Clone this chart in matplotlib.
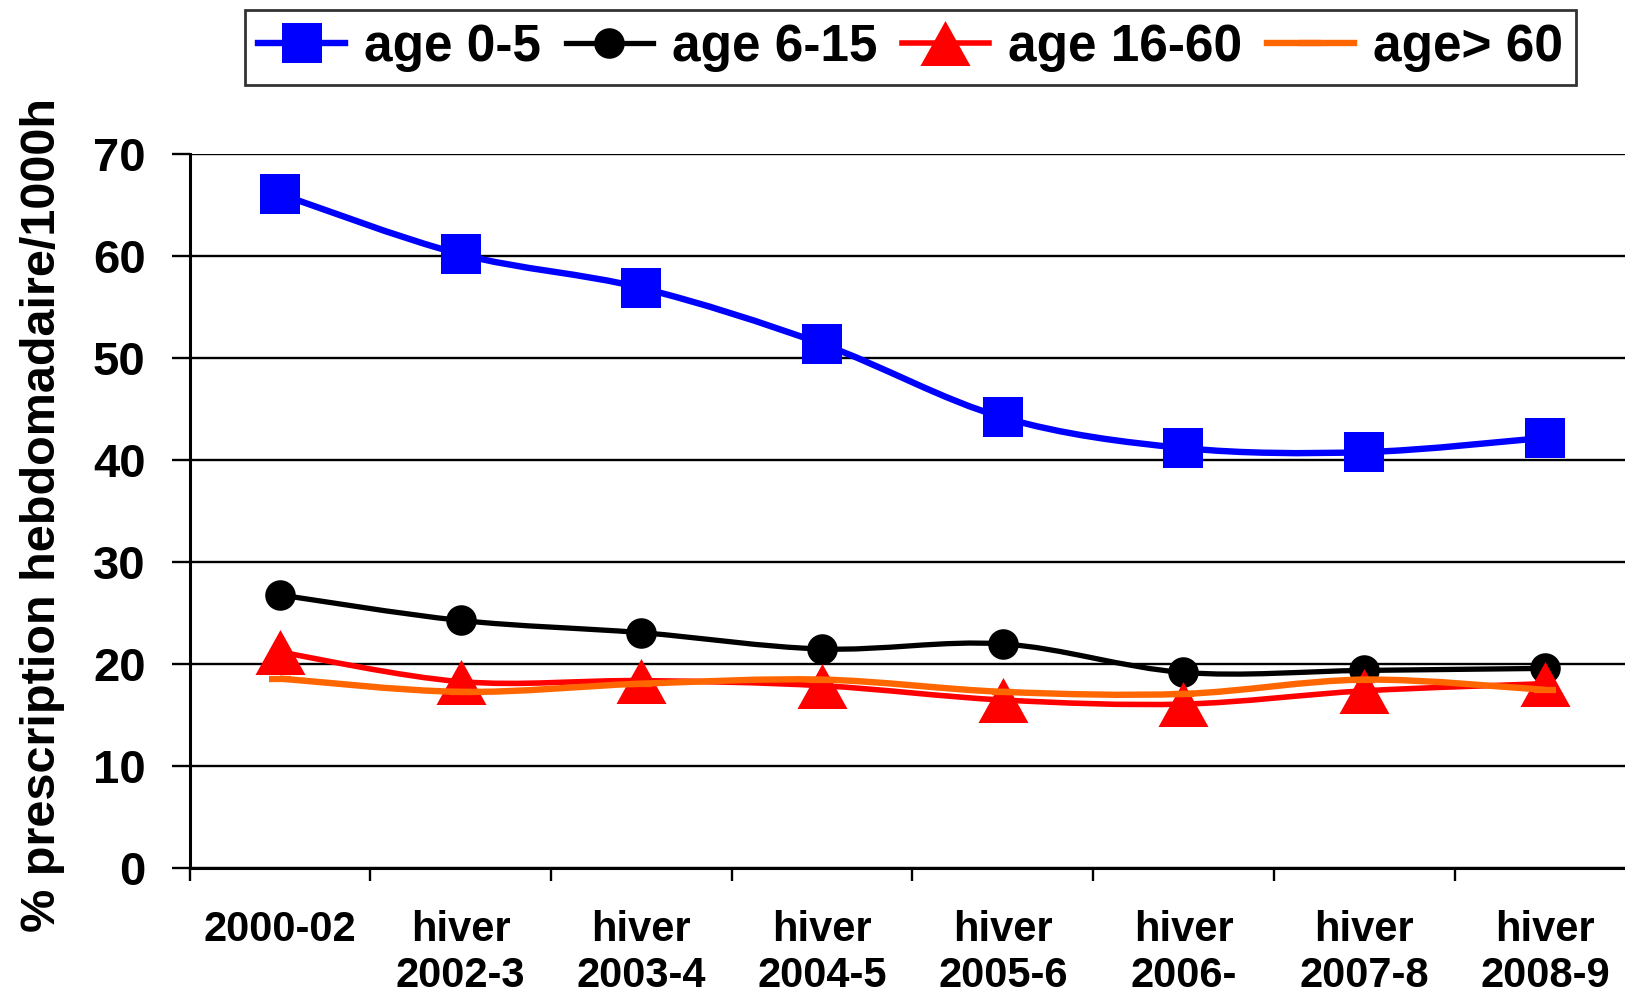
import numpy as np
import matplotlib
matplotlib.use("Agg")
import matplotlib.pyplot as plt
from matplotlib.path import Path
from matplotlib.patches import PathPatch
from matplotlib.lines import Line2D

plt.rcParams["font.family"] = ["Liberation Sans", "DejaVu Sans"]
plt.rcParams["font.weight"] = "bold"

categories = ["2000-02", "hiver\n2002-3", "hiver\n2003-4", "hiver\n2004-5",
              "hiver\n2005-6", "hiver\n2006-", "hiver\n2007-8", "hiver\n2008-9"]
age_0_5 = [66.1, 60.2, 56.9, 51.4, 44.2, 41.2, 40.8, 42.2]
age_6_15 = [26.8, 24.3, 23.1, 21.5, 22.0, 19.2, 19.4, 19.6]
age_16_60 = [21.2, 18.3, 18.4, 17.9, 16.5, 16.1, 17.4, 18.1]
age_60p = [18.6, 17.3, 18.1, 18.5, 17.3, 17.1, 18.5, 17.5]
labels = ["age 0-5", "age 6-15", "age 16-60", "age> 60"]
yticks = [0, 10, 20, 30, 40, 50, 60, 70]


def smooth_path(xs, ys):
    # Bezier a la Excel "ligne lissee"
    pts = np.column_stack([xs, ys]).astype(float)
    ext = np.vstack([pts[0], pts, pts[-1]])
    verts = [tuple(pts[0])]
    codes = [Path.MOVETO]
    for i in range(len(pts) - 1):
        p0, p1, p2, p3 = ext[i], ext[i + 1], ext[i + 2], ext[i + 3]
        c1 = p1 + (p2 - p0) / 6.0
        c2 = p2 - (p3 - p1) / 6.0
        verts += [tuple(c1), tuple(c2), tuple(p2)]
        codes += [Path.CURVE4] * 3
    return Path(verts, codes)


tri = [(-1, -0.9), (1, -0.9), (0, 0.9)]
styles = [
    dict(color="#0000FF", lw=4.6, marker="s", ms=29, mew=0),
    dict(color="#000000", lw=3.8, marker="o", ms=22, mew=0),
    dict(color="#FF0000", lw=4.0, marker=tri, ms=36, mew=0),
    dict(color="#FF6600", lw=4.6, marker="_", ms=16, mew=4.5),
]
series = [age_0_5, age_6_15, age_16_60, age_60p]

fig = plt.figure(figsize=(16.25, 9.96), dpi=100)
ax = fig.add_axes([0.1167, 0.1282, 0.8896, 0.7169])
x = np.arange(len(categories))

handles = []
for k, (vals, st) in enumerate(zip(series, styles)):
    patch = PathPatch(smooth_path(x, vals), fill=False, edgecolor=st["color"],
                      lw=st["lw"], capstyle="butt", joinstyle="round", zorder=3 + 2 * k)
    ax.add_patch(patch)
    ax.plot(x, vals, linestyle="none", marker=st["marker"], ms=st["ms"],
            color=st["color"], mew=st["mew"], mec=st["color"], zorder=4 + 2 * k)
    handles.append(Line2D([], [], color=st["color"], lw=st["lw"], marker=st["marker"],
                          ms=st["ms"], mew=st["mew"], mec=st["color"]))

ax.set_xlim(-0.5, 7.5)
ax.set_ylim(0, 70)
ax.set_yticks(yticks)
ax.set_yticklabels([str(v) for v in yticks], fontsize=34, fontweight="bold")
ax.yaxis.grid(True, color="black", lw=1.7)
ax.set_axisbelow(True)

ax.set_xticks(np.arange(-0.5, 8.0, 1.0))
ax.set_xticklabels([])
ax.set_xticks(x, minor=True)
ax.set_xticklabels(categories, minor=True, fontsize=30, fontweight="bold",
                   linespacing=1.2)
ax.tick_params(axis="x", which="major", length=9.6, width=1.7, direction="out")
ax.tick_params(axis="x", which="minor", length=0, pad=30)
ax.tick_params(axis="y", length=12.7, width=1.7, direction="out", pad=19)

for s in ["top", "right"]:
    ax.spines[s].set_visible(False)
ax.spines["left"].set_linewidth(2.2)
ax.spines["bottom"].set_linewidth(2.2)

ax.set_ylabel("% prescription hebdomadaire/1000h", fontsize=35, fontweight="bold")
ax.yaxis.set_label_coords(-0.086, 0.4955)

leg = fig.legend(handles, labels, loc="center", ncol=4, mode="expand",
                 bbox_to_anchor=(0.1508, 0.9167, 0.819, 0.0709),
                 prop={"size": 37, "weight": "bold"}, handlelength=1.7,
                 handletextpad=0.37, columnspacing=0.55, borderpad=0.25,
                 frameon=True, fancybox=False, borderaxespad=0)
leg.get_frame().set_edgecolor("black")
leg.get_frame().set_linewidth(2.0)

fig.savefig("out.png", dpi=100)
